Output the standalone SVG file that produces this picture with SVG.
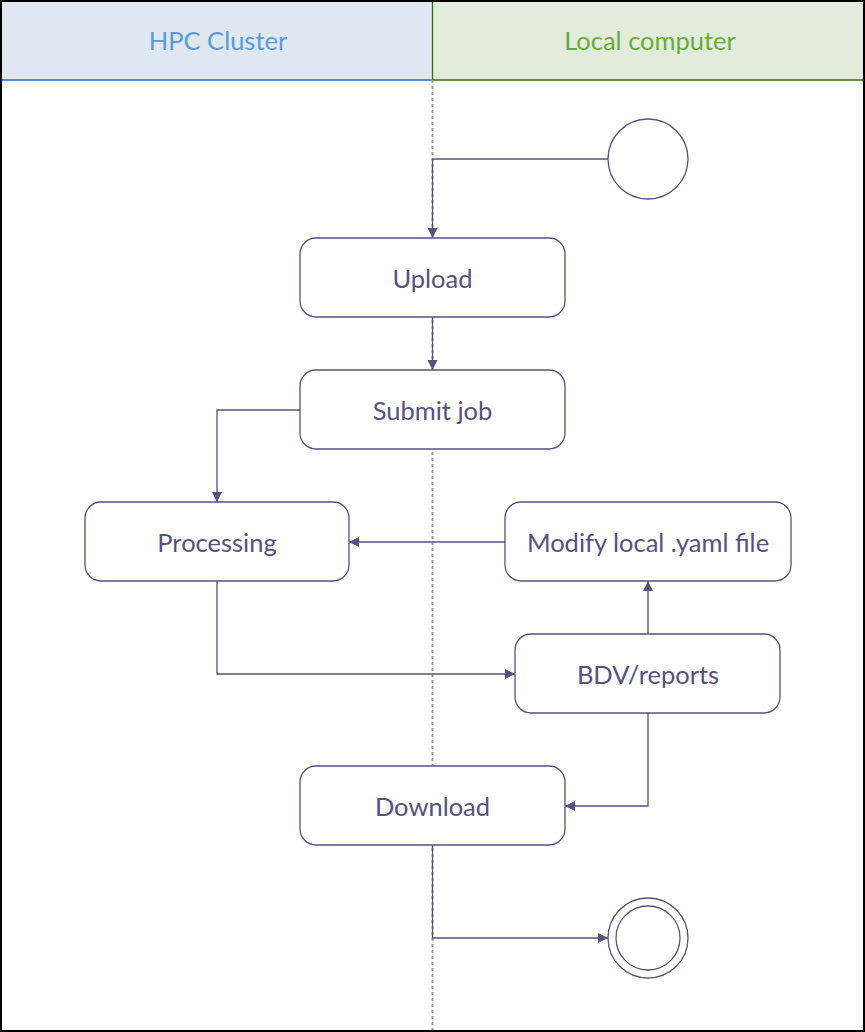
<svg xmlns="http://www.w3.org/2000/svg" width="865" height="1032" viewBox="0 0 865 1032">
<style>
.n{fill:#fff;stroke:#56517e;stroke-width:1.3}
.t{font-family:Lato,"Liberation Sans",sans-serif;font-size:25.5px;fill:#56517e;text-anchor:middle;dominant-baseline:central}
.c{fill:none;stroke:#56517e;stroke-width:1.3}
</style>
<defs><marker id="a" viewBox="0 0 10 10" refX="10" refY="5" markerWidth="10" markerHeight="10" markerUnits="userSpaceOnUse" orient="auto"><path d="M0,0L10,5L0,10z" fill="#56517e"/></marker></defs>
<rect width="865" height="1032" fill="#fff"/>
<g id="lanes">
<rect x="1" y="1" width="431.5" height="79" fill="#dfe7f3"/>
<rect x="432.5" y="1" width="431.5" height="79" fill="#e1ecdc"/>
<line x1="1" y1="80" x2="432.5" y2="80" stroke="#2a6ab0" stroke-width="1.3"/>
<line x1="432.5" y1="80" x2="864" y2="80" stroke="#3a6a1a" stroke-width="1.3"/>
<line x1="432.5" y1="1" x2="432.5" y2="80" stroke="#3a6a1a" stroke-width="1.3"/>
<line x1="432.5" y1="80" x2="432.5" y2="1030" stroke="#999" stroke-width="2" stroke-dasharray="3,3"/>
<text x="218" y="40" class="t" style="fill:#5b9bd5">HPC Cluster</text>
<text x="650" y="40" class="t" style="fill:#6aaa3a">Local computer</text>
<rect x="1" y="1" width="863" height="1030" fill="none" stroke="#000" stroke-width="2"/>
</g>
<g id="edges">
<path class="c" d="M608,159H432.5V238" marker-end="url(#a)"/>
<path class="c" d="M432.5,317V370" marker-end="url(#a)"/>
<path class="c" d="M300,410H217V502" marker-end="url(#a)"/>
<path class="c" d="M505,542H349" marker-end="url(#a)"/>
<path class="c" d="M217,581V674H515" marker-end="url(#a)"/>
<path class="c" d="M648,634V581" marker-end="url(#a)"/>
<path class="c" d="M648,713V806H565" marker-end="url(#a)"/>
<path class="c" d="M432.5,845V938H608" marker-end="url(#a)"/>
</g>
<g id="start"><circle class="n" cx="648" cy="159" r="40"/></g>
<g id="upload"><rect class="n" x="300" y="238" width="265" height="79" rx="16"/><text class="t" x="432.5" y="278">Upload</text></g>
<g id="submit"><rect class="n" x="300" y="370" width="265" height="79" rx="16"/><text class="t" x="432.5" y="410">Submit job</text></g>
<g id="processing"><rect class="n" x="85" y="502" width="264" height="79" rx="16"/><text class="t" x="217" y="542">Processing</text></g>
<g id="modify"><rect class="n" x="505" y="502" width="286" height="79" rx="16"/><text class="t" x="648" y="542">Modify local .yaml file</text></g>
<g id="bdv"><rect class="n" x="515" y="634" width="265" height="79" rx="16"/><text class="t" x="648" y="674">BDV/reports</text></g>
<g id="download"><rect class="n" x="300" y="766" width="265" height="79" rx="16"/><text class="t" x="432.5" y="806">Download</text></g>
<g id="end"><circle class="n" cx="648" cy="938" r="40"/><circle class="n" cx="648" cy="938" r="32"/></g>
</svg>
